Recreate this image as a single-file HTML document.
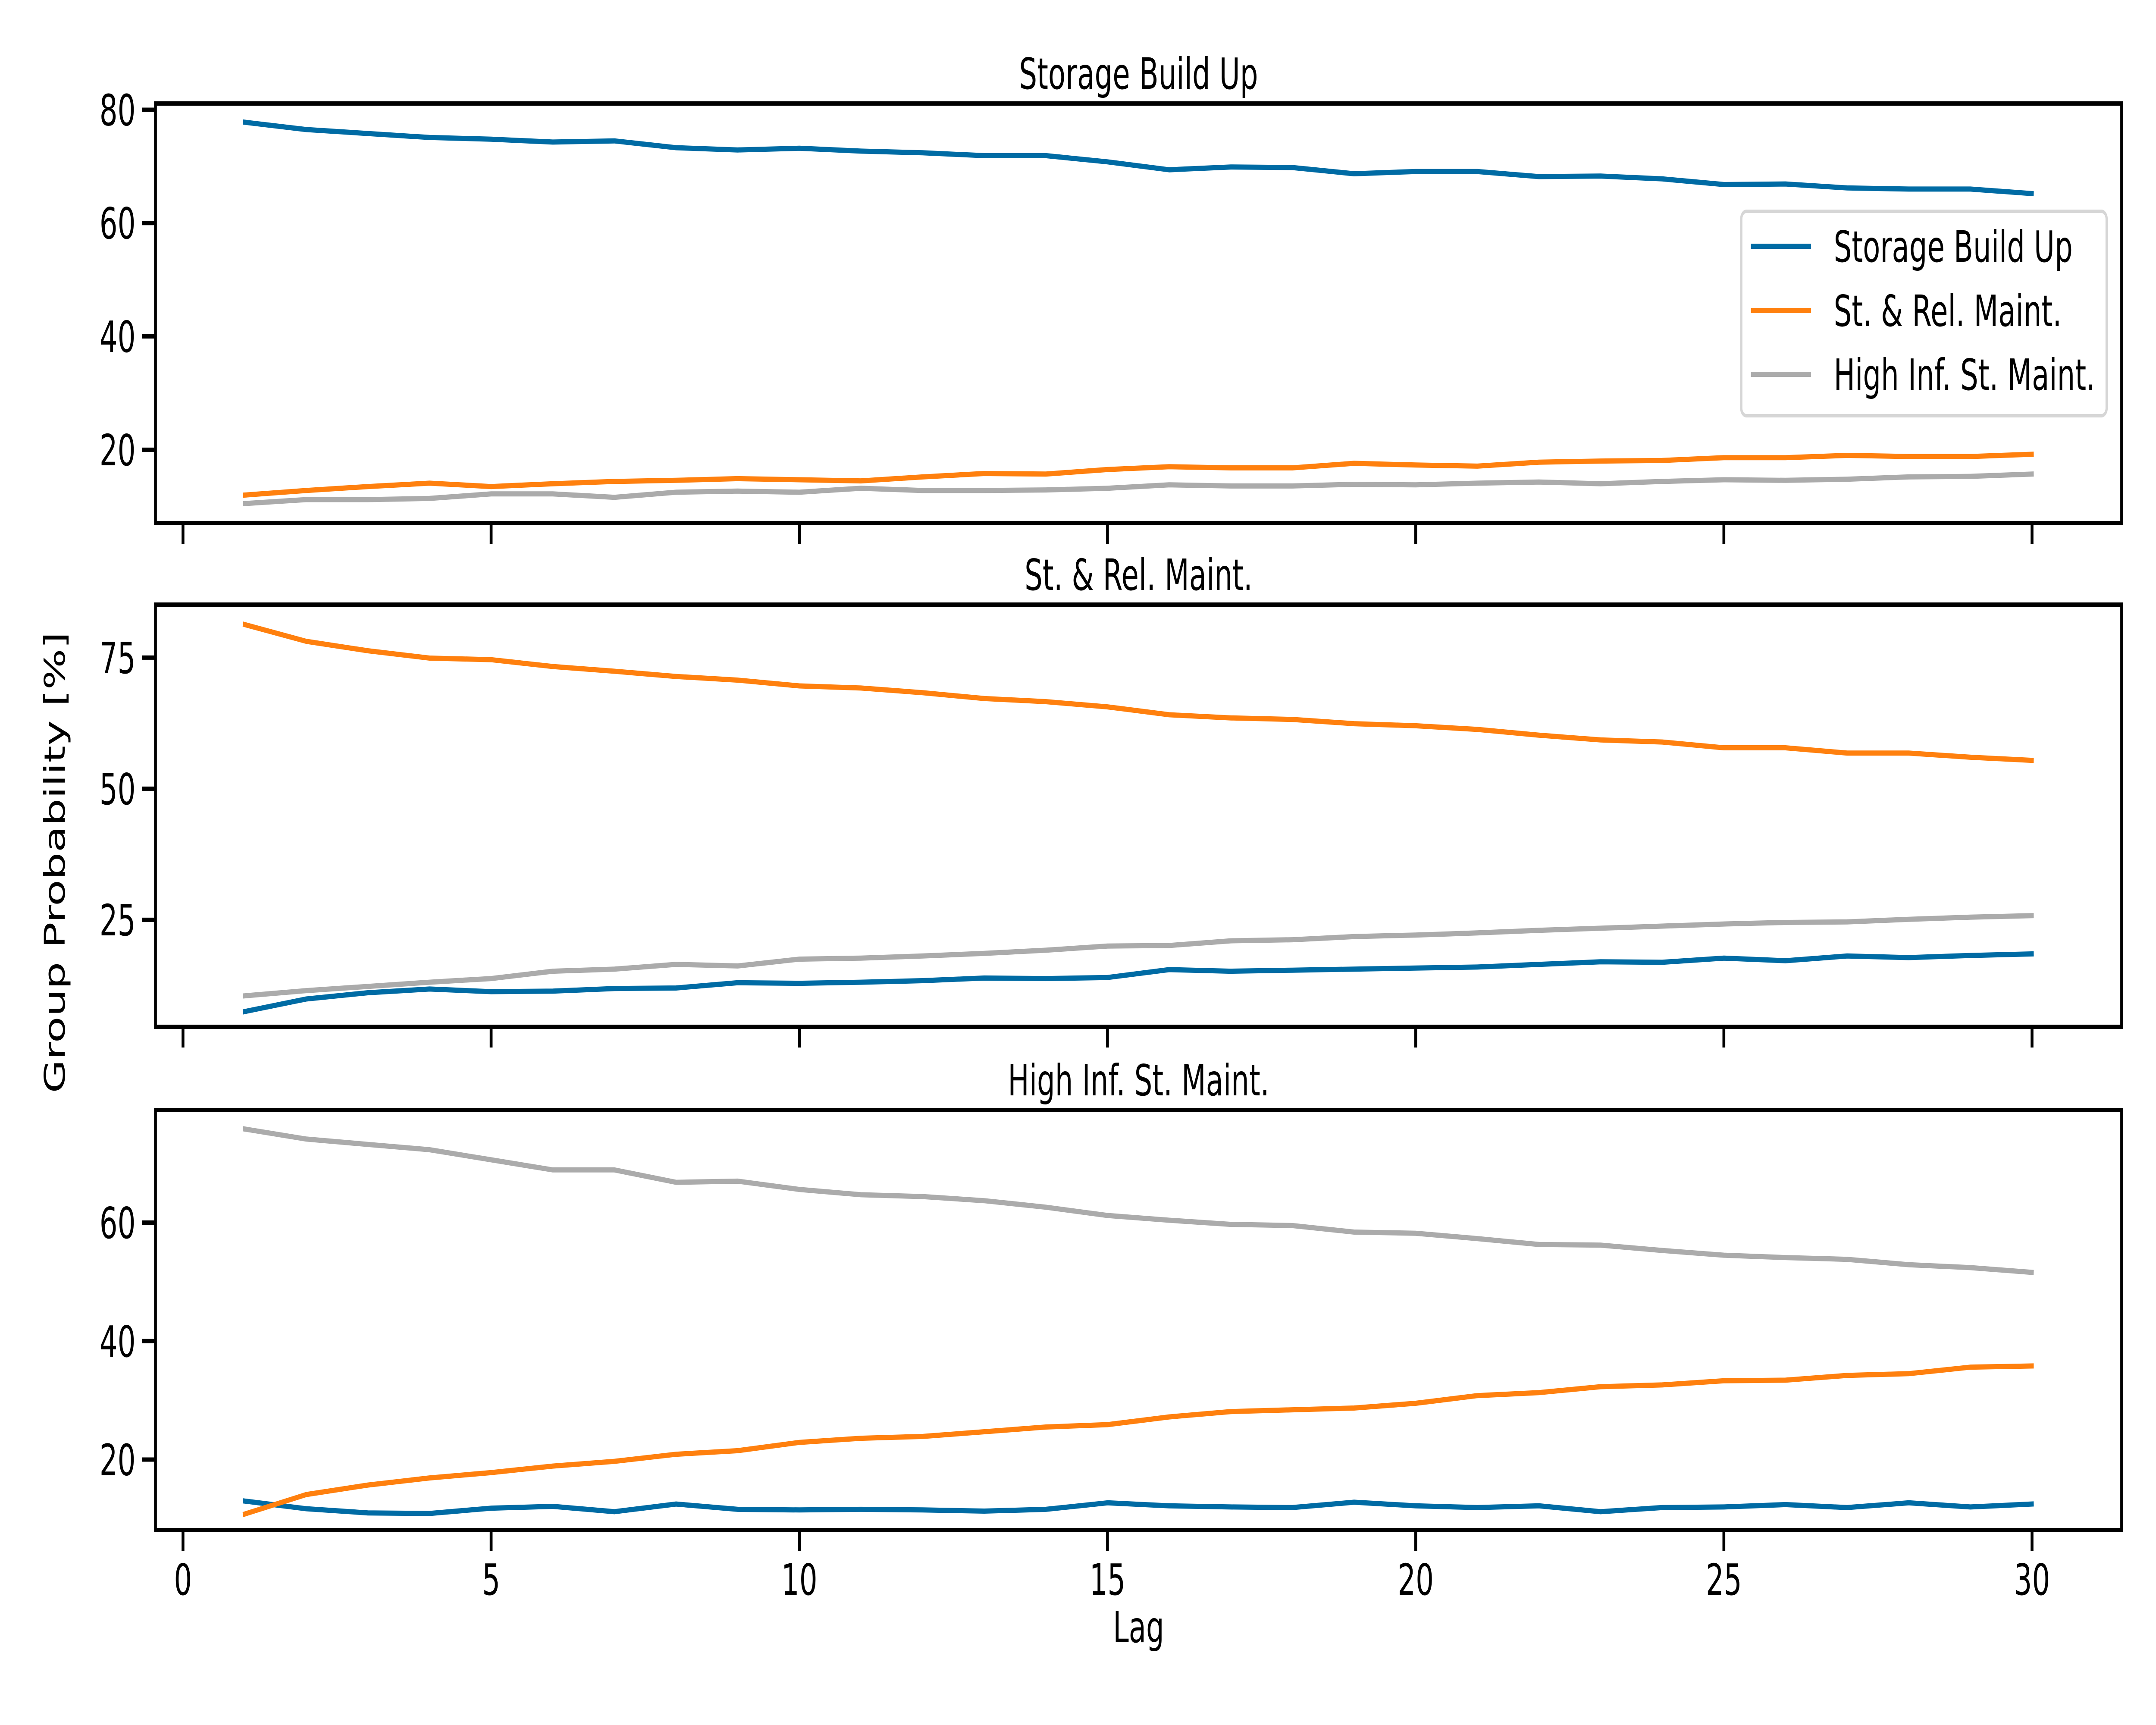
<!DOCTYPE html>
<html><head><meta charset="utf-8"><style>
html,body{margin:0;padding:0;background:#fff;width:100%;height:100%;overflow:hidden;}
svg{display:block;position:fixed;left:0;top:0;width:100vw;height:100vh;font-family:"DejaVu Sans","Liberation Sans",sans-serif;}
</style></head><body>
<svg id="chart" viewBox="0 0 7600 4000" preserveAspectRatio="none" xmlns="http://www.w3.org/2000/svg"></svg>
<script>
const lags = [1,2,3,4,5,6,7,8,9,10,11,12,13,14,15,16,17,18,19,20,21,22,23,24,25,26,27,28,29,30];
const xTicks = [0,5,10,15,20,25,30];
const seriesNames = ["Storage Build Up","St. & Rel. Maint.","High Inf. St. Maint."];
const p1Blue = [77.8,76.5,75.8,75.1,74.8,74.3,74.5,73.3,72.9,73.2,72.7,72.4,71.9,71.9,70.8,69.4,69.9,69.8,68.7,69.1,69.1,68.2,68.3,67.8,66.8,66.9,66.2,66.0,66.0,65.2];
const p1Orange = [12.0,12.8,13.5,14.1,13.5,14.0,14.4,14.6,14.9,14.7,14.5,15.2,15.8,15.7,16.5,17.0,16.8,16.8,17.6,17.3,17.1,17.8,18.0,18.1,18.6,18.6,19.0,18.8,18.8,19.2];
const p1Gray = [10.5,11.2,11.2,11.4,12.2,12.2,11.6,12.5,12.7,12.5,13.2,12.8,12.8,12.9,13.2,13.8,13.6,13.6,13.9,13.8,14.1,14.3,14.0,14.4,14.7,14.6,14.8,15.2,15.3,15.7];
const p2Blue = [7.5,9.9,11.1,11.8,11.3,11.4,11.9,12.0,13.0,12.9,13.1,13.4,13.9,13.8,14.0,15.5,15.2,15.4,15.6,15.8,16.0,16.5,17.0,16.9,17.7,17.2,18.1,17.8,18.2,18.5];
const p2Orange = [81.3,78.1,76.3,74.9,74.6,73.3,72.4,71.4,70.7,69.6,69.2,68.3,67.2,66.6,65.6,64.1,63.5,63.2,62.4,62.0,61.3,60.2,59.3,58.9,57.8,57.8,56.8,56.8,56.0,55.4];
const p2Gray = [10.5,11.5,12.3,13.1,13.8,15.2,15.6,16.5,16.2,17.5,17.7,18.1,18.6,19.2,20.0,20.1,21.0,21.2,21.8,22.1,22.5,23.0,23.4,23.8,24.2,24.5,24.6,25.1,25.5,25.8];
const p3Blue = [13.0,11.7,11.0,10.9,11.8,12.1,11.2,12.5,11.6,11.5,11.6,11.5,11.3,11.6,12.7,12.2,12.0,11.9,12.8,12.2,11.9,12.2,11.2,11.9,12.0,12.4,11.9,12.7,12.0,12.5];
const p3Orange = [10.8,14.1,15.7,16.9,17.8,18.9,19.7,20.9,21.5,22.9,23.6,23.9,24.7,25.5,25.9,27.2,28.1,28.4,28.7,29.5,30.8,31.3,32.3,32.6,33.3,33.4,34.2,34.5,35.6,35.8];
const p3Gray = [75.8,74.1,73.2,72.3,70.6,68.9,68.9,66.8,67.0,65.6,64.7,64.4,63.7,62.6,61.2,60.4,59.7,59.5,58.4,58.2,57.3,56.3,56.2,55.3,54.5,54.1,53.8,52.9,52.4,51.6];
const p1Ticks = [20,40,60,80];
const p2Ticks = [25,50,75];
const p3Ticks = [20,40,60];

const colors = ["#006ba4","#ff800e","#ababab"];
const svg = document.getElementById('chart');
const NS = "http://www.w3.org/2000/svg";
function mk(tag, attrs, parent){const e=document.createElementNS(NS,tag);for(const k in attrs)e.setAttribute(k,attrs[k]);(parent||svg).appendChild(e);return e;}

const L=548, R=7479;
function xs(v){return 645 + (v-0)*(7163-645)/30;}

const panels = [
  {title:"Storage Build Up", top:240, bot:1213, ymin:7.05, ymax:81.1, ticks:p1Ticks, data:[p1Blue,p1Orange,p1Gray], labels:false, name:"storage-build-up"},
  {title:"St. & Rel. Maint.", top:1402, bot:2381, ymin:4.6, ymax:85.1, ticks:p2Ticks, data:[p2Blue,p2Orange,p2Gray], labels:false, name:"st-rel-maint"},
  {title:"High Inf. St. Maint.", top:2574, bot:3548, ymin:8.1, ymax:79.0, ticks:p3Ticks, data:[p3Blue,p3Orange,p3Gray], labels:true, name:"high-inf-st-maint"}
];

panels.forEach((p,pi)=>{
  const g = mk('g',{});
  
  
  const ys = v => p.bot - (v-p.ymin)*(p.bot-p.top)/(p.ymax-p.ymin);
  p.data.forEach((arr,si)=>{
    const pts = arr.map((v,i)=>xs(lags[i]).toFixed(1)+','+ys(v).toFixed(1)).join(' ');
    const pl = mk('polyline',{points:pts,fill:'none',stroke:colors[si],'stroke-width':12,'stroke-linejoin':'round','stroke-linecap':'square'},g);
    
    
  });
  const fr = mk('rect',{x:L,y:p.top,width:R-L,height:p.bot-p.top,fill:'none',stroke:'#000','stroke-width':10},g);
  
  
  p.ticks.forEach(t=>{
    const y=ys(t);
    mk('line',{x1:L-48,x2:L,y1:y,y2:y,stroke:'#000','stroke-width':10},g);
    const tx = mk('text',{x:L-70,y:y+36,'font-size':100,'text-anchor':'end',fill:'#000'},g);
    tx.textContent=t;
    
    
  });
  xTicks.forEach(t=>{
    const x=xs(t);
    mk('line',{x1:x,x2:x,y1:p.bot,y2:p.bot+48,stroke:'#000','stroke-width':10},g);
    if(p.labels){
      const tx = mk('text',{x:x,y:p.bot+150,'font-size':100,'text-anchor':'middle',fill:'#000'},g);
      tx.textContent=t;
      
      
    }
  });
  const tt = mk('text',{x:(L+R)/2,y:p.top-34,'font-size':100,'text-anchor':'middle',fill:'#000'},g);
  tt.textContent=p.title;
  
  
});

const xl = mk('text',{x:(L+R)/2,y:3808,'font-size':100,'text-anchor':'middle',fill:'#000'});
xl.textContent='Lag';


const yl = mk('text',{x:0,y:0,'font-size':100,'text-anchor':'middle',fill:'#000',transform:'translate(228,2000) rotate(-90)'});
yl.textContent='Group Probability [%]';



const lg = mk('g',{});


mk('rect',{x:6138,y:490,width:1288,height:474,rx:18,fill:'#fff','fill-opacity':0.8,stroke:'#d6d6d6','stroke-width':8},lg);
const rowsY=[571,720,868];
seriesNames.forEach((n,i)=>{
  const e = mk('g',{},lg);
  
  
  mk('line',{x1:6172,x2:6384,y1:rowsY[i],y2:rowsY[i],stroke:colors[i],'stroke-width':12},e);
  const t = mk('text',{x:6464,y:rowsY[i]+36,'font-size':100,fill:'#000'},e);
  t.textContent=n;
});
</script>
</body></html>
